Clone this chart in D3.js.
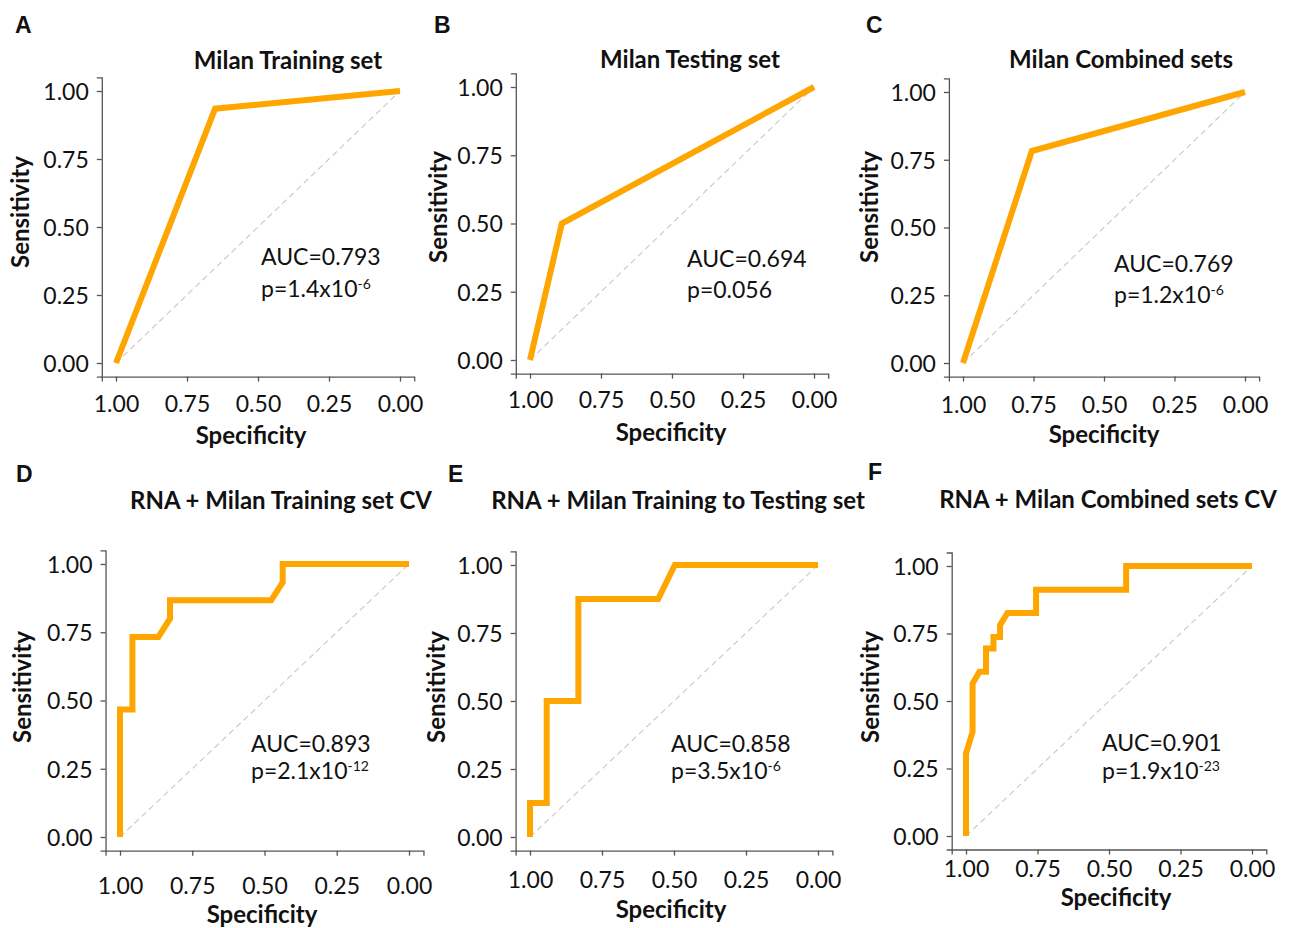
<!DOCTYPE html>
<html>
<head>
<meta charset="utf-8">
<script src="https://cdn.jsdelivr.net/npm/d3@7"></script>
<style>
  body { margin: 0; background: #fff; }
  svg text { font-family: Lato, 'Open Sans', sans-serif; fill: #111; }
  .letter { font-family: 'Liberation Sans', Arial, sans-serif !important; font-weight: bold; font-size: 23px; }
  .title { font-weight: bold; font-size: 24px; }
  .axis-title { font-weight: bold; font-size: 24px; }
  .tick text { font-size: 23px; }
  .stat { font-size: 23px; }
  .axis path, .axis line { stroke: #555; stroke-width: 1.3; }
</style>
</head>
<body>
<svg id="chart" width="1289" height="928"></svg>
<script>
// 坐标轴刻度
const tickValues = [0, 0.25, 0.5, 0.75, 1]

// ROC 曲线 (specificity, sensitivity)
const specA = [1, 0.651, 0]
const sensA = [0, 0.935, 1]
const specB = [1, 0.888, 0]
const sensB = [0, 0.5, 1]
const specC = [1, 0.756, 0]
const sensC = [0, 0.782, 1]
const specD = [1, 1, 0.957, 0.957, 0.867, 0.827, 0.827, 0.477, 0.437, 0.437, 0]
const sensD = [0, 0.467, 0.467, 0.733, 0.733, 0.8, 0.867, 0.867, 0.933, 1, 1]
const specE = [1, 1, 0.942, 0.942, 0.832, 0.832, 0.555, 0.497, 0]
const sensE = [0, 0.125, 0.125, 0.5, 0.5, 0.875, 0.875, 1, 1]
const specF = [1, 1, 0.977, 0.977, 0.953, 0.93, 0.93, 0.904, 0.904, 0.881, 0.881, 0.855, 0.755, 0.755, 0.44, 0.44, 0]
const sensF = [0, 0.306, 0.386, 0.565, 0.608, 0.608, 0.694, 0.694, 0.737, 0.737, 0.781, 0.826, 0.826, 0.912, 0.912, 1, 1]

const titles = ['Milan Training set', 'Milan Testing set', 'Milan Combined sets',
  'RNA + Milan Training set CV', 'RNA + Milan Training to Testing set', 'RNA + Milan Combined sets CV']
const letters = ['A', 'B', 'C', 'D', 'E', 'F']
const aucs = ['0.793', '0.694', '0.769', '0.893', '0.858', '0.901']
const pBase = ['1.4x10', '0.056', '1.2x10', '2.1x10', '3.5x10', '1.9x10']
const pExp = ['-6', '', '-6', '-12', '-6', '-23']

const specs = [specA, specB, specC, specD, specE, specF]
const senss = [sensA, sensB, sensC, sensD, sensE, sensF]

// 每个面板的位置 (像素: spec=1 / spec=0 的 x, sens=0 / sens=1 的 y)
const layout = [
  { x1: 116, x0: 400, y0: 363, y1: 91, tx: 288, ty: 69, lx: 15, ly: 33, ax: 261, ay: 265, py: 297, sx: 19, sy: 212, fx: 251, fy: 444, gap: 27 },
  { x1: 530, x0: 814, y0: 360, y1: 87, tx: 690, ty: 68, lx: 434, ly: 33, ax: 687, ay: 267, py: 298, sx: 437, sy: 207, fx: 671, fy: 441, gap: 26 },
  { x1: 963, x0: 1245, y0: 363, y1: 92, tx: 1121, ty: 68, lx: 866, ly: 33, ax: 1114, ay: 272, py: 303, sx: 868, sy: 207, fx: 1104, fy: 443, gap: 28 },
  { x1: 120, x0: 409, y0: 837, y1: 564, tx: 281, ty: 509, lx: 16, ly: 482, ax: 251, ay: 752, py: 779, sx: 21, sy: 687, fx: 262, fy: 923, gap: 35 },
  { x1: 530, x0: 818, y0: 837, y1: 565, tx: 678, ty: 509, lx: 448, ly: 482, ax: 671, ay: 752, py: 779, sx: 435, sy: 687, fx: 671, fy: 918, gap: 29.5 },
  { x1: 966, x0: 1252, y0: 836, y1: 566, tx: 1108, ty: 508, lx: 868, ly: 480, ax: 1102, ay: 751, py: 779, sx: 869, sy: 687, fx: 1116, fy: 906, gap: 19 }
]

const svg = d3.select('#chart')

function drawPanel (i) {
  const L = layout[i]
  const g = svg.append('g').attr('class', 'panel')
  // ggplot 风格: 两侧各扩展 5%
  const x = d3.scaleLinear().domain([1, 0]).range([L.x1, L.x0])
  const y = d3.scaleLinear().domain([0, 1]).range([L.y0, L.y1])
  const xr = [x(1.05), x(-0.05)]
  const yr = [y(-0.05), y(1.05)]
  const xAx = d3.scaleLinear().domain([1.05, -0.05]).range(xr)
  const yAx = d3.scaleLinear().domain([-0.05, 1.05]).range(yr)

  // y 轴
  g.append('g')
    .attr('class', 'axis')
    .attr('transform', `translate(${xr[0]},0)`)
    .call(d3.axisLeft(yAx).tickValues(tickValues).tickFormat(d3.format('.2f')).tickSizeOuter(0).tickSize(5).tickPadding(8))
    .selectAll('.tick text').attr('dy', '0.36em')
  // x 轴
  const xg = g.append('g')
    .attr('class', 'axis')
    .attr('transform', `translate(0,${yr[0]})`)
    .call(d3.axisBottom(xAx).tickValues(tickValues).tickFormat(d3.format('.2f')).tickSizeOuter(0).tickSize(5))
  xg.selectAll('.tick text').attr('y', L.gap).attr('dy', '0.36em')
  g.selectAll('.axis .domain').attr('fill', 'none')

  // 对角参考线
  g.append('line')
    .attr('x1', x(1)).attr('y1', y(0))
    .attr('x2', x(0)).attr('y2', y(1))
    .attr('stroke', '#c8c8c8').attr('stroke-width', 1.1)
    .attr('stroke-dasharray', '6,4')

  // ROC 曲线
  const pts = specs[i].map((s, k) => [s, senss[i][k]])
  const line = d3.line().x(d => x(d[0])).y(d => y(d[1]))
  g.append('path')
    .datum(pts)
    .attr('d', line)
    .attr('fill', 'none')
    .attr('stroke', '#FFA500')
    .attr('stroke-width', 6)
    .attr('stroke-linejoin', 'miter')

  // 文字
  g.append('text').attr('class', 'letter').attr('x', L.lx).attr('y', L.ly).text(letters[i])
  g.append('text').attr('class', 'title').attr('x', L.tx).attr('y', L.ty)
    .attr('text-anchor', 'middle').text(titles[i])
  g.append('text').attr('class', 'axis-title')
    .attr('transform', `translate(${L.sx},${L.sy}) rotate(-90)`)
    .attr('text-anchor', 'middle').attr('dominant-baseline', 'central')
    .text('Sensitivity')
  g.append('text').attr('class', 'axis-title').attr('x', L.fx).attr('y', L.fy)
    .attr('text-anchor', 'middle').text('Specificity')
  g.append('text').attr('class', 'stat').attr('x', L.ax).attr('y', L.ay).text('AUC=' + aucs[i])
  const p = g.append('text').attr('class', 'stat').attr('x', L.ax).attr('y', L.py)
  p.append('tspan').text('p=' + pBase[i])
  if (pExp[i]) {
    p.append('tspan').attr('dy', -8).style('font-size', '14px').text(pExp[i])
  }
}

for (let i = 0; i < 6; i++) drawPanel(i)
</script>
</body>
</html>
